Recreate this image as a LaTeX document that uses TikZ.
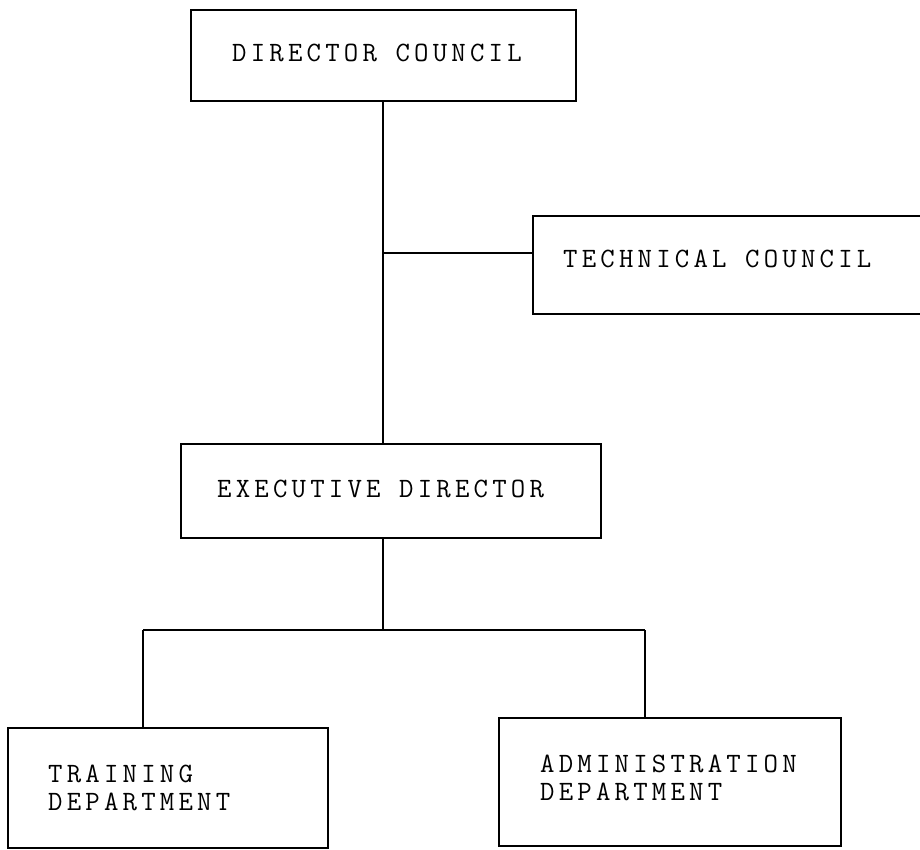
\documentclass[tikz,border=0pt]{standalone}
\usepackage{fontspec}
\newfontfamily\chartfont{Latin Modern Mono}[LetterSpace=15]
\begin{document}
\begin{tikzpicture}[x=1pt,y=-1pt,
  unit/.style={draw, line width=1.8pt, anchor=north west, inner sep=0pt},
  caption/.style={anchor=west, align=left, inner sep=0pt,
    font=\chartfont\fontsize{28}{28}\selectfont},
  link/.style={line width=1.8pt}]
\useasboundingbox[fill=white] (0,0) rectangle (920,849);

% frames: top-left corner, width, height
\node[unit, minimum width=385pt, minimum height=91pt]  (dc) at (190,9) {};
\node[unit, minimum width=395pt, minimum height=98pt]  (tc) at (532,215) {};
\node[unit, minimum width=420pt, minimum height=94pt]  (ex) at (180,443) {};
\node[unit, minimum width=320pt, minimum height=120pt] (tr) at (7,727) {};
\node[unit, minimum width=342pt, minimum height=128pt] (ad) at (498,717) {};

% captions, set in from the left side of each frame
\node[caption] (dct) at ([xshift=42pt,yshift=2pt]dc.west) {DIRECTOR COUNCIL};
\node[caption] (tct) at ([xshift=31pt,yshift=6pt]tc.west) {TECHNICAL COUNCIL};
\node[caption] (ext) at ([xshift=37pt,yshift=2pt]ex.west) {EXECUTIVE DIRECTOR};
\node[caption] (trt) at ([xshift=41pt]tr.west) {TRAINING\\DEPARTMENT};
\node[caption] (adt) at ([xshift=42pt,yshift=4pt]ad.west) {ADMINISTRATION\\DEPARTMENT};

% spine, side tap and branch bar
\coordinate (spine) at (383,0);
\coordinate (tap) at (383,253);
\coordinate (lb) at (143,630);
\coordinate (rb) at (645,630);

\draw[link] (spine |- dc.south) -- (spine |- ex.north);
\draw[link] (tap) -- (tap -| tc.west);
\draw[link] (spine |- ex.south) -- (spine |- lb);
\draw[link] (lb) -- (rb);
\draw[link] (lb) -- (lb |- tr.north);
\draw[link] (rb) -- (rb |- ad.north);
\end{tikzpicture}
\end{document}
